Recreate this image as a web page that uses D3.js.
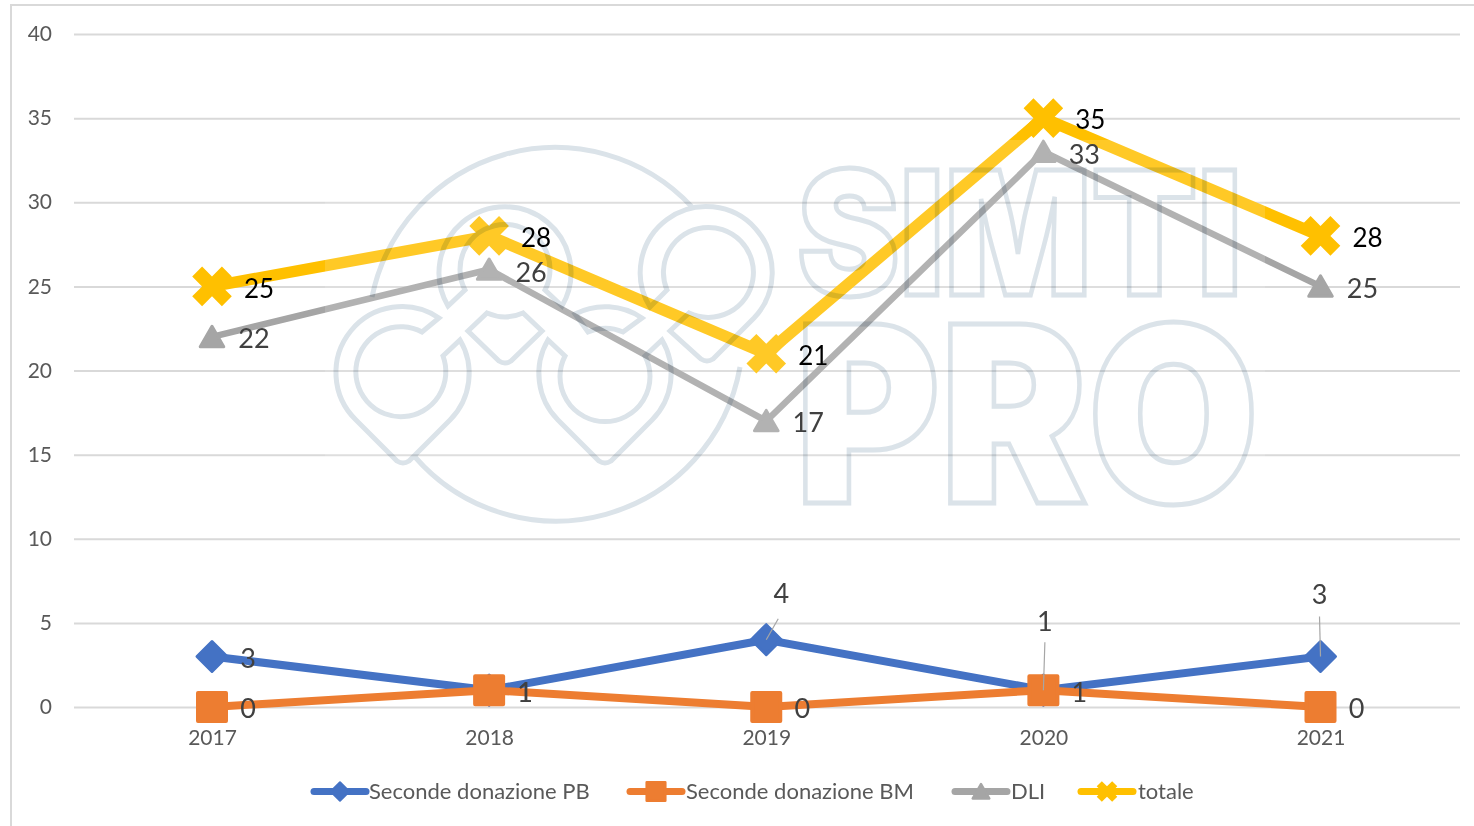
<!DOCTYPE html>
<html><head><meta charset="utf-8">
<script src="https://cdnjs.cloudflare.com/ajax/libs/d3/7.8.5/d3.min.js"></script>
<style>
html,body{margin:0;padding:0;background:#fff;overflow:hidden}
svg{display:block;font-family:Lato,"Open Sans",sans-serif}
</style></head><body>
<svg id="c" width="1474" height="826"></svg>
<script>
const years = ["2017","2018","2019","2020","2021"];
const yTicks = [0,5,10,15,20,25,30,35,40];
const seriesNames = ["Seconde donazione PB","Seconde donazione BM","DLI","totale"];
const secondePB = [3,1,4,1,3];
const secondeBM = [0,1,0,1,0];
const dli = [22,26,17,33,25];
const totale = [25,28,21,35,28];

const svg = d3.select("#c");
const gridColor = "#d9d9d9";
const x = d3.scalePoint().domain(years).range([212,1320.5]);
const y = d3.scaleLinear().domain([0,40]).range([707,34]);

// chart frame (left and top edges only reach the picture)
svg.append("path").attr("d","M11,830V5H1474").attr("fill","none").attr("stroke",gridColor).attr("stroke-width",2);

// axes
const gy = svg.append("g").attr("transform","translate(74,0)")
  .call(d3.axisLeft(y).tickValues(yTicks).tickSize(0).tickPadding(22));
gy.select(".domain").remove();
gy.selectAll("text").attr("font-size",21).attr("fill","#595959").attr("font-family","Lato");
gy.selectAll("g.tick").append("line").attr("x1",0).attr("x2",1386).attr("stroke",gridColor).attr("stroke-width",2);

const gx = svg.append("g").attr("transform","translate(0,707)")
  .call(d3.axisBottom(x).tickSize(0).tickPadding(23));
gx.select(".domain").remove();
gx.selectAll("text").attr("font-size",21).attr("fill","#595959").attr("font-family","Lato");

// marker shapes
const mk = {
  diamond:{d:d3.symbol().type(d3.symbolSquare).size(450)(),rot:45,dy:0,sw:3,key:0.62},
  square:{d:d3.symbol().type(d3.symbolSquare).size(784)(),rot:0,dy:0,sw:4,key:0.66},
  triangle:{d:d3.symbol().type(d3.symbolTriangle).size(240)(),rot:0,dy:3,sw:3,key:0.72},
  cross:{d:d3.symbol().type(d3.symbolCross).size(980)(),rot:45,dy:0,sw:0,key:0.52}
};
const series = [
 {name:seriesNames[0],values:secondePB,color:"#4472c4",lw:8,mark:"diamond"},
 {name:seriesNames[1],values:secondeBM,color:"#ed7d31",lw:8,mark:"square"},
 {name:seriesNames[2],values:dli,color:"#a5a5a5",lw:6.5,mark:"triangle"},
 {name:seriesNames[3],values:totale,color:"#ffc000",lw:11.5,mark:"cross"}
];
const line = d3.line().x((d,i)=>x(years[i])).y(d=>y(d));
function placeMark(sel,m,px,py,scale){
  sel.append("path").attr("d",m.d)
   .attr("transform",`translate(${px},${py+m.dy*scale}) rotate(${m.rot}) scale(${scale})`)
   .attr("stroke-width",m.sw).attr("stroke-linejoin","round");
}
series.forEach(s=>{
  const g = svg.append("g");
  g.append("path").attr("d",line(s.values)).attr("fill","none").attr("stroke",s.color).attr("stroke-width",s.lw).attr("stroke-linejoin","miter");
  const mg = g.append("g").attr("fill",s.color).attr("stroke",s.color);
  s.values.forEach((v,i)=>placeMark(mg,mk[s.mark],x(years[i]),y(v),1));
});

// pale veil of the pasted watermark image
svg.append("rect").attr("x",325).attr("y",140).attr("width",940).attr("height",390).attr("fill","#fff").attr("opacity",0.15);

// leader lines
const leaders = [
 {s:0,i:2,x2:12,y2:-21},
 {s:0,i:3,x2:1.5,y2:-48},
 {s:0,i:4,x2:-1,y2:-40}
];
leaders.forEach(l=>{
  const v = series[l.s].values[l.i], px=x(years[l.i]), py=y(v);
  svg.append("line").attr("x1",px).attr("y1",py).attr("x2",px+l.x2).attr("y2",py+l.y2)
    .attr("stroke","#a6a6a6").attr("stroke-width",1.2);
});

// data labels
const labelOffsets = [
 [[36,2],[36,2],[15,-46],[1.5,-69],[-1,-62]],
 [[36,2],[36,2],[36,2],[36,2],[36,2]],
 [[42,2],[42,2.5],[42,2],[41,2.5],[42,2]],
 [[47,2.5],[47,2],[47,2.5],[47,2],[47,2]]
];
const labelColors = ["#404040","#404040","#404040","#000000"];
const labelSizes = [27,27,27,26];
series.forEach((s,si)=>{
  svg.append("g").selectAll("text").data(s.values).join("text")
   .attr("x",(d,i)=>x(years[i])+labelOffsets[si][i][0])
   .attr("y",(d,i)=>y(d)+labelOffsets[si][i][1])
   .attr("dy","0.35em").attr("text-anchor","middle")
   .attr("font-size",labelSizes[si]).attr("fill",labelColors[si]).text(d=>d);
});

// legend
const legendPos = [{x:311,t:369},{x:627,t:686},{x:952,t:1011},{x:1078,t:1138}];
const legY = 791.5;
const lg = svg.append("g");
series.forEach((s,i)=>{
  const p = legendPos[i];
  lg.append("line").attr("x1",p.x+3).attr("x2",p.x+55).attr("y1",legY).attr("y2",legY)
    .attr("stroke",s.color).attr("stroke-width",7).attr("stroke-linecap","round");
  const mg = lg.append("g").attr("fill",s.color).attr("stroke",s.color);
  placeMark(mg,mk[s.mark],p.x+29,legY,mk[s.mark].key);
  lg.append("text").attr("x",p.t).attr("y",legY).attr("dy","0.35em")
    .attr("font-size",22).attr("fill","#595959").text(s.name);
});

// watermark
const wm = svg.append("g").attr("fill","none").attr("stroke","#dbe3e9").attr("stroke-width",5)
  .style("mix-blend-mode","multiply");
wm.append("path").attr("d","M692,207A187,187 0 0 0 372,297M415,457A187,187 0 0 0 740,367");
function ringTop(cx,cy){return `M${cx-57},${cy+33}A66,66 0 1 1 ${cx+57},${cy+33}L${cx+40},${cy+17}A45,45 0 1 0 ${cx-40},${cy+17}Z`;}
function tipDown(cx,cy){return `M${cx-37},${cy+58}L${cx-18},${cy+40}A45,45 0 0 0 ${cx+18},${cy+40}L${cx+37},${cy+58}L${cx+6},${cy+88}Q${cx},${cy+92} ${cx-6},${cy+88}Z`;}
function bodyBottom(cx,cy){return `M${cx-57},${cy-33}A66,66 0 0 0 ${cx-47},${cy+47}L${cx-6},${cy+88}Q${cx},${cy+92} ${cx+6},${cy+88}L${cx+47},${cy+47}A66,66 0 0 0 ${cx+57},${cy-33}L${cx+40},${cy-17}A45,45 0 1 1 ${cx-40},${cy-17}Z`;}
function topPiece(cx,cy){return `M${cx-30},${cy-59}A66,66 0 0 1 ${cx+37},${cy-55}L${cx+18},${cy-41}A45,45 0 0 0 ${cx-17},${cy-41}Z`;}
function bodyBL(cx,cy){return `M${cx+36},${cy-55}A66,66 0 0 0 ${cx-47},${cy+47}L${cx-6},${cy+88}Q${cx},${cy+92} ${cx+6},${cy+88}L${cx+47},${cy+47}A66,66 0 0 0 ${cx+57},${cy-33}L${cx+40},${cy-17}A45,45 0 1 1 ${cx+19},${cy-41}Z`;}
function bodyTR(cx,cy){return `M${cx-57},${cy+36}A66,66 0 1 1 ${cx+47},${cy+47}L${cx+6},${cy+88}Q${cx},${cy+92} ${cx-6},${cy+88}L${cx-37},${cy+60}L${cx-18},${cy+42}A45,45 0 1 0 ${cx-40},${cy+19}Z`;}
wm.append("path").attr("d",ringTop(505,273));
wm.append("path").attr("d",tipDown(505,273));
wm.append("path").attr("d",bodyTR(707,271));
wm.append("path").attr("d",bodyBL(403,373));
wm.append("path").attr("d",bodyBottom(605,373));
wm.append("path").attr("d",topPiece(605,373));
wm.append("text").attr("x",797).attr("y",295).attr("textLength",445).attr("lengthAdjust","spacingAndGlyphs")
  .attr("font-family","Inter").attr("font-weight",900).attr("font-size",172).text("SIMTI");
wm.append("text").attr("x",795).attr("y",503).attr("textLength",464).attr("lengthAdjust","spacingAndGlyphs")
  .attr("font-family","Inter").attr("font-weight",900).attr("font-size",246).text("PRO");
</script>
</body></html>
